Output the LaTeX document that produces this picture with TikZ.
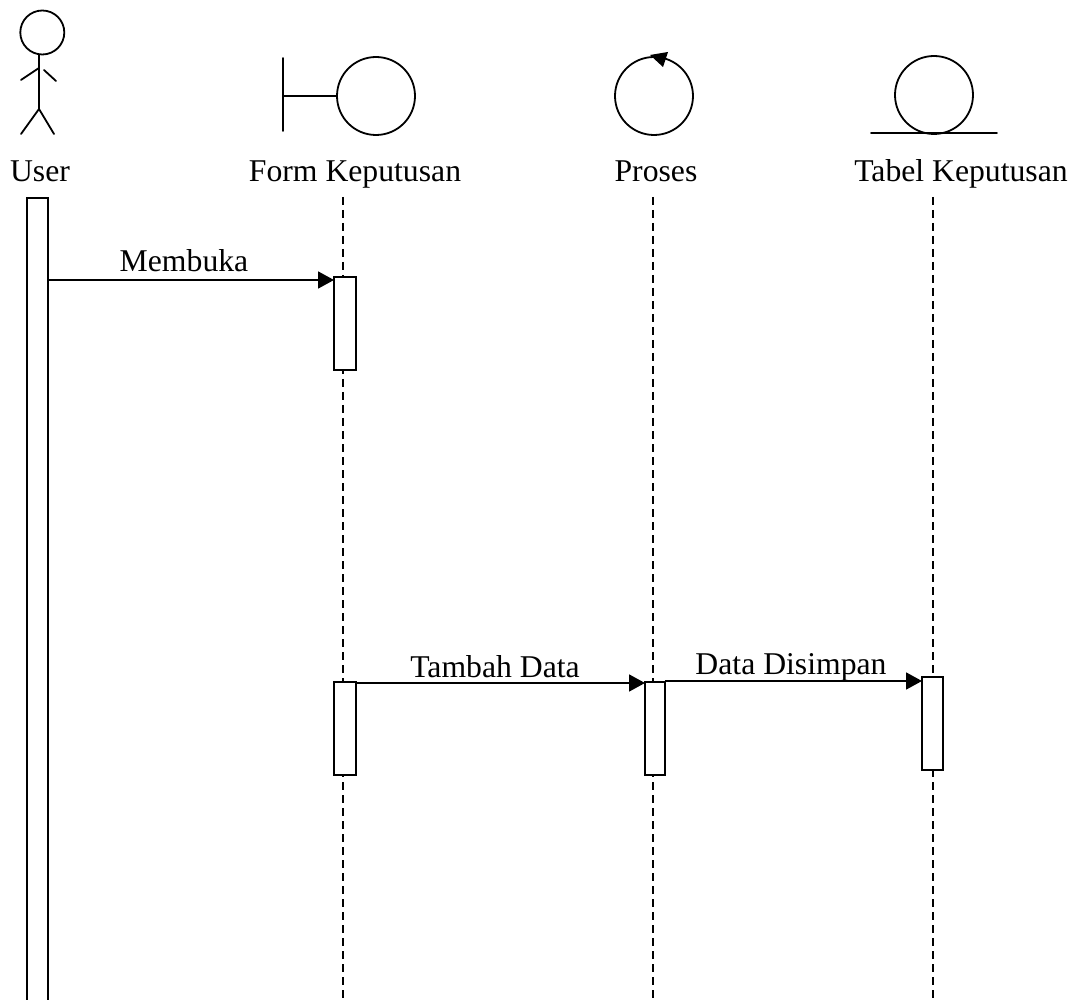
\documentclass[tikz,border=0pt]{standalone}
\usepackage{fontspec}
\setmainfont{Liberation Serif}
\usetikzlibrary{arrows.meta}
\tikzset{
  every node/.style={inner sep=0pt,outer sep=0pt},
  sym/.style={draw=black,line width=1.8pt,line cap=round},
  lbl/.style={anchor=base,font=\fontsize{31.7}{36}\selectfont},
  life/.style={draw=black,line width=1.6pt,dash pattern=on 8pt off 5pt},
  bar/.style={draw=black,fill=white,line width=1.8pt,rectangle,anchor=north west},
  msg/.style={draw=black,line width=1.8pt,-{Triangle[length=16pt,width=17pt]},shorten >=0pt}
}
\begin{document}
\begin{tikzpicture}[x=1pt,y=-1pt]
\useasboundingbox (0,0) rectangle (1077,1000);
% labels
\node[lbl] (luser) at (40,182) {User};
\node[lbl] (lform) at (355,182) {Form Keputusan};
\node[lbl] (lproses) at (656,182) {Proses};
\node[lbl] (ltabel) at (961,182) {Tabel Keputusan};
% lifeline ends
\coordinate (fa) at (343,197); \coordinate (fb) at (343,1000);
\coordinate (pa) at (653,197); \coordinate (pb) at (653,1000);
\coordinate (ta) at (933,197); \coordinate (tb) at (933,1000);
\draw[life] (fa) -- (fb);
\draw[life] (pa) -- (pb);
\draw[life] (ta) -- (tb);
% user actor
\node[sym,circle,minimum size=44pt] (uhead) at (42.3,32.5) {};
\coordinate (uhip) at (39,109); \coordinate (ushoulder) at (39,68);
\draw[sym] (39,54.5) -- (uhip);
\draw[sym] (21,80) -- (ushoulder);
\draw[sym] (44,70) -- (56,81);
\draw[sym] (21,134) -- (uhip) -- (54,134);
% boundary
\node[sym,circle,minimum size=78pt] (bcirc) at (376,96) {};
\draw[sym] (283,58) -- (283,131);
\draw[sym] (283,96) -- (bcirc.west);
% control
\node[sym,circle,minimum size=78pt] (ccirc) at (654,96) {};
\fill[black] (650,55) -- (668,52) -- (663,67) -- cycle;
% entity
\node[sym,circle,minimum size=78pt] (ecirc) at (934,95) {};
\draw[sym] (871,133) -- (997,133);
% activation bars
\begin{scope}
\clip (0,0) rectangle (1077,1000);
\node[bar,minimum width=21pt,minimum height=815pt] (ubar) at (27,198) {};
\end{scope}
\node[bar,minimum width=22pt,minimum height=93pt] (f1) at (334,277) {};
\node[bar,minimum width=22pt,minimum height=93pt] (f2) at (334,682) {};
\node[bar,minimum width=20pt,minimum height=93pt] (p1) at (645,682) {};
\node[bar,minimum width=21pt,minimum height=93pt] (t1) at (922,677) {};
% messages
\coordinate (m1) at (334,280);
\coordinate (m2) at (645,683);
\coordinate (m3) at (922,681);
\draw[msg] (ubar.east |- m1) -- (m1);
\draw[msg] (f2.east |- m2) -- (m2);
\draw[msg] (p1.east |- m3) -- (m3);
\node[lbl] (mlab1) at (184,272) {Membuka};
\node[lbl] (mlab2) at (495,677) {Tambah Data};
\node[lbl] (mlab3) at (791,674) {Data Disimpan};
\end{tikzpicture}
\end{document}
